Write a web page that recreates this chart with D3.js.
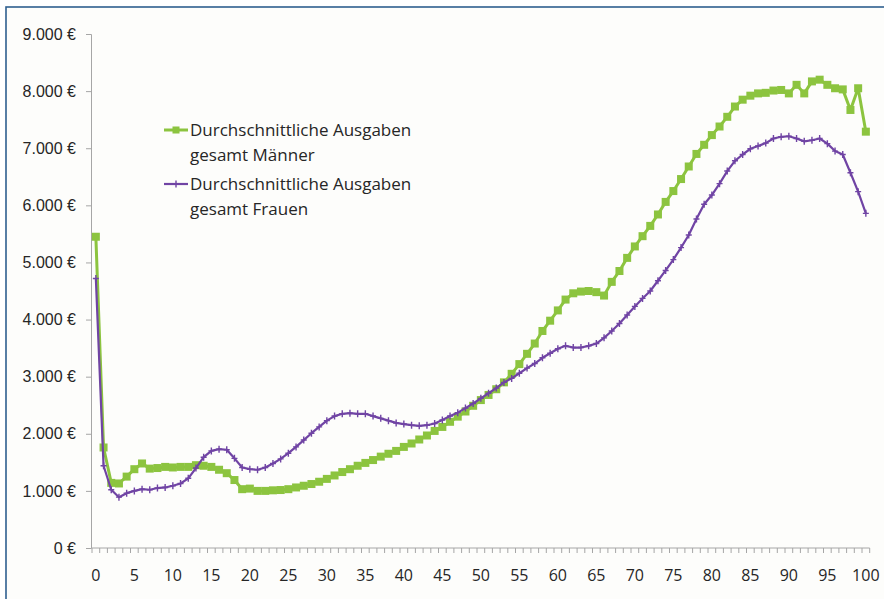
<!DOCTYPE html>
<html>
<head>
<meta charset="utf-8">
<script src="https://cdn.jsdelivr.net/npm/d3@7"></script>
<style>
  body { margin: 0; background: #fff; }
  svg { display: block; font-family: "Open Sans", "DejaVu Sans", sans-serif; }
</style>
</head>
<body>
<svg id="chart"></svg>
<script>
const width = 884;
const height = 599;

// Alter 0..100
const ages = d3.range(0, 101);

const maenner = [
  5450, 1760, 1140, 1130, 1250, 1380, 1480, 1390, 1400, 1420,
  1410, 1420, 1420, 1450, 1440, 1420, 1370, 1310, 1190, 1030,
  1040, 1000, 1000, 1010, 1015, 1030, 1060, 1090, 1120, 1160,
  1210, 1270, 1330, 1380, 1440, 1490, 1540, 1600, 1650, 1700,
  1770, 1830, 1900, 1970, 2050, 2120, 2210, 2300, 2390, 2490,
  2590, 2680, 2780, 2900, 3050, 3220, 3400, 3580, 3800, 3980,
  4160, 4350, 4460, 4490, 4500, 4480, 4420, 4660, 4850, 5080,
  5280, 5460, 5640, 5840, 6060, 6250, 6460, 6680, 6900, 7060,
  7230, 7380, 7550, 7730, 7850, 7920, 7960, 7970, 8010, 8020,
  7960, 8110, 7960, 8170, 8200, 8110, 8050, 8030, 7670, 8050,
  7290
];

const frauen = [
  4720, 1440, 1020, 890, 960, 1000, 1030, 1020, 1050, 1060,
  1090, 1130, 1220, 1400, 1590, 1700, 1730, 1720, 1570, 1410,
  1380, 1370, 1410, 1480, 1560, 1660, 1770, 1890, 2010, 2120,
  2230, 2310, 2350, 2360, 2350, 2350, 2310, 2270, 2230, 2190,
  2170, 2150, 2140, 2150, 2180, 2240, 2310, 2370, 2450, 2530,
  2620, 2710, 2800, 2900, 2970, 3060, 3150, 3230, 3330, 3410,
  3490, 3540, 3510, 3510, 3540, 3580, 3680, 3800, 3930, 4080,
  4230, 4370, 4500, 4680, 4860, 5050, 5260, 5480, 5760, 6020,
  6180, 6380, 6600, 6780, 6890, 6990, 7040, 7090, 7170, 7200,
  7210, 7170, 7120, 7140, 7170, 7080, 6950, 6890, 6570, 6240,
  5860
];

const yTicks = d3.range(0, 9001, 1000);
const xLabelTicks = d3.range(0, 101, 5);
const legendLabels = [
  ["Durchschnittliche Ausgaben", "gesamt Männer"],
  ["Durchschnittliche Ausgaben", "gesamt Frauen"]
];

const green = "#8cc43f";
const purple = "#7044a4";
const axisColor = "#a6a6a6";
const textColor = "#262626";

const svg = d3.select("#chart")
  .attr("width", width).attr("height", height);

// Hintergrund + Rahmen
svg.append("rect")
  .attr("x", 0).attr("y", 0).attr("width", width).attr("height", height)
  .attr("fill", "#fff");
svg.append("rect")
  .attr("x", 6).attr("y", 7).attr("width", width + 10).attr("height", height + 10)
  .attr("fill", "#fdfdfb")
  .attr("stroke", "#2f5f8f").attr("stroke-width", 1.6);

const x = d3.scaleBand()
  .domain(ages)
  .range([92, 869.7])
  .padding(0);
const cx = d => x(d) + x.bandwidth() / 2;

const y = d3.scaleLinear()
  .domain([0, 9000])
  .range([548, 34]);

// y-Achse
const yAxis = svg.append("g")
  .attr("transform", "translate(91,0)")
  .call(d3.axisLeft(y)
    .tickValues(yTicks)
    .tickSize(5)
    .tickPadding(10)
    .tickFormat(d => d3.format(",")(d).replace(/,/g, ".") + " €"));
yAxis.select(".domain").attr("stroke", axisColor);
yAxis.selectAll(".tick line").attr("stroke", axisColor);
yAxis.selectAll("text")
  .attr("fill", textColor)
  .style("font-size", "16px");

// x-Achse: Striche zwischen den Kategorien
const xAxis = svg.append("g")
  .attr("transform", "translate(0,548)");
xAxis.append("line")
  .attr("x1", x.range()[0]).attr("x2", x.range()[1])
  .attr("stroke", axisColor);
xAxis.selectAll("line.minor")
  .data(ages.concat([101]))
  .join("line")
  .attr("class", "minor")
  .attr("x1", d => d === 101 ? x.range()[1] : x(d))
  .attr("x2", d => d === 101 ? x.range()[1] : x(d))
  .attr("y1", 0).attr("y2", 5)
  .attr("stroke", axisColor);
xAxis.selectAll("text")
  .data(xLabelTicks)
  .join("text")
  .attr("x", d => cx(d))
  .attr("y", 33)
  .attr("text-anchor", "middle")
  .attr("fill", textColor)
  .style("font-size", "16px")
  .text(d => d);

// Linien
const line = d3.line()
  .x((d, i) => cx(ages[i]))
  .y(d => y(d));

svg.append("path")
  .datum(maenner)
  .attr("fill", "none")
  .attr("stroke", green)
  .attr("stroke-width", 3)
  .attr("stroke-linejoin", "round")
  .attr("d", line);

svg.append("g")
  .selectAll("rect")
  .data(maenner)
  .join("rect")
  .attr("x", (d, i) => cx(ages[i]) - 4)
  .attr("y", d => y(d) - 4)
  .attr("width", 8).attr("height", 8)
  .attr("fill", green);

svg.append("path")
  .datum(frauen)
  .attr("fill", "none")
  .attr("stroke", purple)
  .attr("stroke-width", 2.2)
  .attr("stroke-linejoin", "round")
  .attr("d", line);

svg.append("g")
  .selectAll("path")
  .data(frauen)
  .join("path")
  .attr("d", (d, i) => {
    const px = cx(ages[i]), py = y(d);
    return `M${px - 3},${py}H${px + 3}M${px},${py - 3.5}V${py + 3.5}`;
  })
  .attr("stroke", purple)
  .attr("stroke-width", 1.4)
  .attr("fill", "none");

// Legende
const legend = svg.append("g");
const legendY = [130, 184];
const colors = [green, purple];

legendLabels.forEach((lines, k) => {
  const g = legend.append("g").attr("transform", `translate(164,${legendY[k]})`);
  g.append("line")
    .attr("x1", 0).attr("x2", 24)
    .attr("stroke", colors[k])
    .attr("stroke-width", k === 0 ? 3 : 2.2);
  if (k === 0) {
    g.append("rect").attr("x", 8.5).attr("y", -3.5).attr("width", 7).attr("height", 7).attr("fill", green);
  } else {
    g.append("path").attr("d", "M9,0H15M12,-3.5V3.5").attr("stroke", purple).attr("stroke-width", 1.4);
  }
  g.selectAll("text")
    .data(lines)
    .join("text")
    .attr("x", 26)
    .attr("y", (d, i) => 6 + i * 25)
    .attr("fill", textColor)
    .style("font-size", "17px")
    .text(d => d);
});
</script>
</body>
</html>
